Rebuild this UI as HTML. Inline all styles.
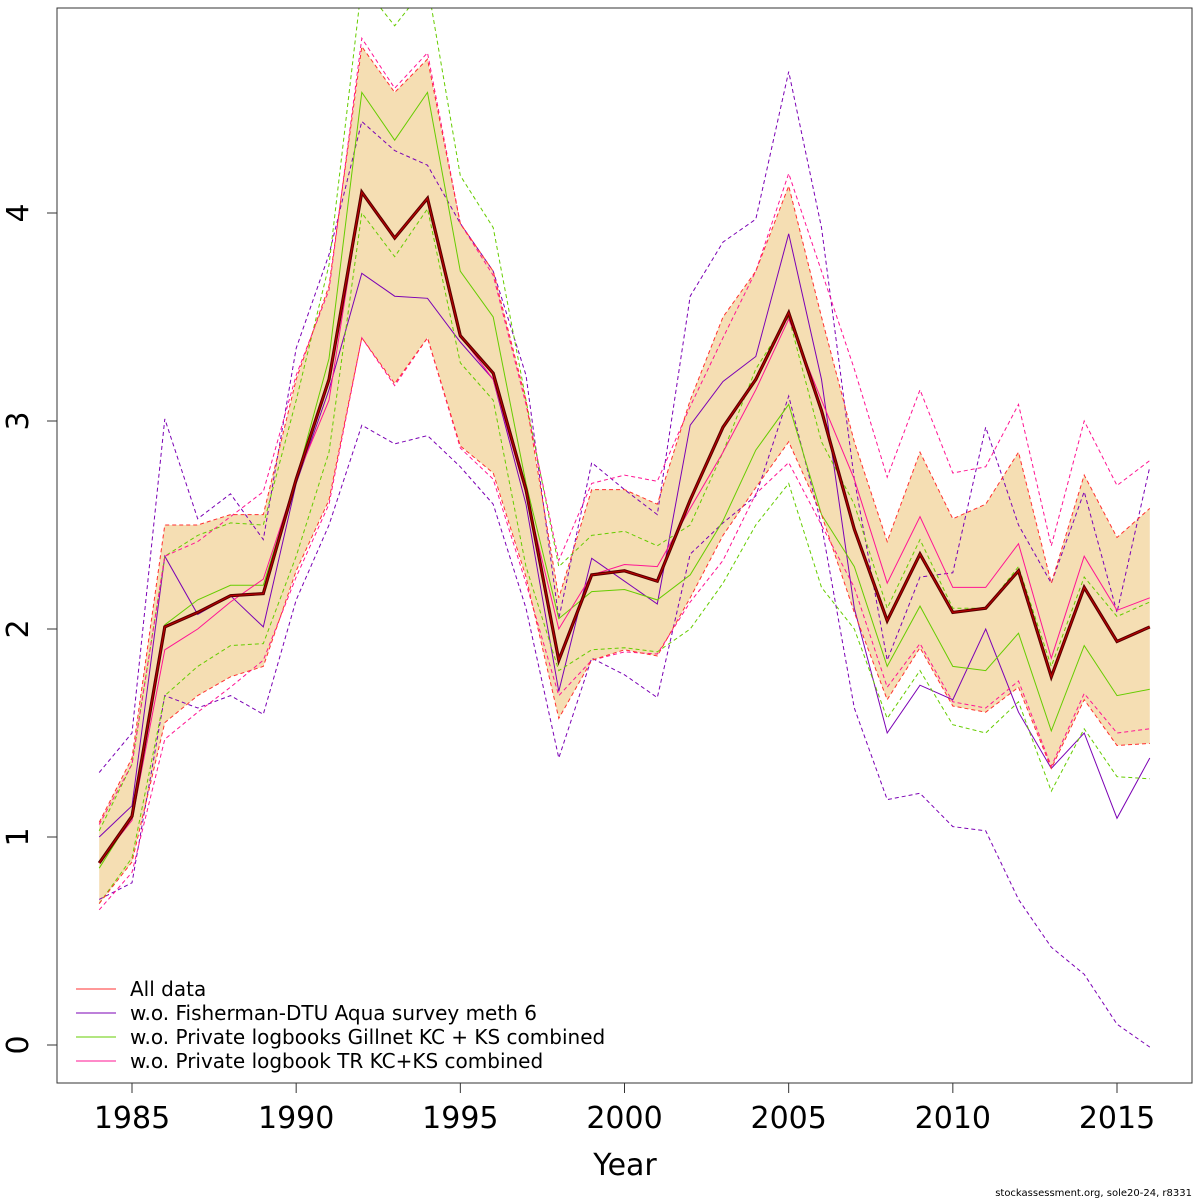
<!DOCTYPE html>
<html><head><meta charset="utf-8">
<style>
html,body{margin:0;padding:0;background:#fff;}
svg{display:block;font-family:"DejaVu Sans","Liberation Sans",sans-serif;}
</style></head>
<body>
<svg id="chart" width="1200" height="1200" viewBox="0 0 1200 1200">
<defs><clipPath id="pc"><rect x="57" y="8" width="1135" height="1075"/></clipPath></defs>
<g id="plot" clip-path="url(#pc)"></g>
<rect x="57" y="8" width="1135" height="1075" fill="none" stroke="#333" stroke-width="1"/>
<g id="axes"></g>
<text x="625" y="1175" font-size="30" text-anchor="middle">Year</text>
<text x="1192" y="1196" font-size="10" text-anchor="end">stockassessment.org, sole20-24, r8331</text>
<g id="legend"></g>
</svg>
<script>
const years = [1984,1985,1986,1987,1988,1989,1990,1991,1992,1993,1994,1995,1996,1997,1998,1999,2000,2001,2002,2003,2004,2005,2006,2007,2008,2009,2010,2011,2012,2013,2014,2015,2016];
const allEst = [0.875,1.1,2.01,2.08,2.16,2.17,2.72,3.2,4.1,3.88,4.07,3.41,3.23,2.67,1.85,2.26,2.28,2.23,2.62,2.97,3.2,3.52,3.05,2.48,2.04,2.36,2.08,2.1,2.28,1.77,2.2,1.94,2.01];
const allHi = [1.07,1.38,2.5,2.5,2.55,2.55,3.2,3.65,4.8,4.58,4.74,3.95,3.72,3.1,2.15,2.67,2.67,2.6,3.1,3.5,3.72,4.13,3.5,2.9,2.42,2.85,2.53,2.6,2.85,2.22,2.74,2.44,2.58];
const allLo = [0.68,0.88,1.55,1.68,1.77,1.82,2.28,2.62,3.4,3.18,3.4,2.88,2.75,2.25,1.57,1.85,1.9,1.87,2.15,2.45,2.68,2.9,2.55,2.08,1.66,1.91,1.63,1.6,1.72,1.33,1.66,1.44,1.45];
const fishEst = [1.0,1.15,2.35,2.07,2.16,2.01,2.7,3.15,3.71,3.6,3.59,3.38,3.2,2.6,1.7,2.34,2.23,2.12,2.98,3.19,3.31,3.9,3.2,2.1,1.5,1.73,1.66,2.0,1.6,1.33,1.5,1.09,1.38];
const fishHi = [1.31,1.5,3.01,2.53,2.65,2.43,3.35,3.8,4.44,4.3,4.23,3.95,3.72,3.22,2.05,2.8,2.67,2.55,3.6,3.86,3.97,4.68,3.93,2.72,1.85,2.25,2.27,2.97,2.5,2.22,2.66,2.08,2.78];
const fishLo = [0.7,0.78,1.68,1.62,1.68,1.59,2.14,2.5,2.98,2.89,2.93,2.78,2.6,2.1,1.38,1.86,1.78,1.67,2.36,2.51,2.64,3.12,2.5,1.62,1.18,1.21,1.05,1.03,0.7,0.47,0.34,0.1,-0.01];
const gillEst = [0.85,1.1,2.02,2.14,2.21,2.21,2.72,3.3,4.58,4.35,4.58,3.72,3.5,2.7,2.05,2.18,2.19,2.14,2.26,2.52,2.86,3.08,2.55,2.3,1.82,2.11,1.82,1.8,1.98,1.51,1.92,1.68,1.71];
const gillHi = [1.03,1.35,2.35,2.45,2.51,2.5,3.1,3.75,5.1,4.9,5.1,4.18,3.93,3.1,2.3,2.45,2.47,2.4,2.5,2.85,3.25,3.5,2.9,2.6,2.1,2.43,2.1,2.1,2.3,1.82,2.25,2.06,2.13];
const gillLo = [0.68,0.9,1.68,1.82,1.92,1.93,2.35,2.85,4.0,3.79,4.02,3.28,3.1,2.3,1.8,1.9,1.91,1.89,2.0,2.22,2.5,2.7,2.2,2.0,1.57,1.8,1.54,1.5,1.65,1.22,1.52,1.29,1.28];
const trEst = [0.88,1.08,1.9,2.0,2.13,2.24,2.72,3.1,4.1,3.88,4.07,3.41,3.2,2.65,2.0,2.26,2.31,2.3,2.58,2.85,3.15,3.49,3.1,2.72,2.22,2.54,2.2,2.2,2.41,1.86,2.35,2.09,2.15];
const trHi = [1.06,1.35,2.35,2.42,2.54,2.66,3.22,3.63,4.84,4.6,4.77,3.95,3.7,3.08,2.33,2.7,2.74,2.71,3.07,3.4,3.72,4.19,3.72,3.25,2.73,3.15,2.75,2.78,3.08,2.4,3.0,2.69,2.81];
const trLo = [0.65,0.83,1.47,1.6,1.72,1.85,2.25,2.6,3.4,3.17,3.4,2.87,2.72,2.22,1.68,1.85,1.89,1.88,2.13,2.33,2.65,2.8,2.5,2.2,1.72,1.93,1.65,1.62,1.75,1.34,1.69,1.5,1.52];
const xTicks = [1985,1990,1995,2000,2005,2010,2015];
const yTicks = [0,1,2,3,4];
const legendLabels = ["All data","w.o. Fisherman-DTU Aqua survey meth 6","w.o. Private logbooks Gillnet KC + KS combined","w.o. Private logbook TR KC+KS combined"];

const NS="http://www.w3.org/2000/svg";
const X = y => 132 + (y-1985)*(1117-132)/30;
const Y = v => 1045 - v*208;
function mk(tag, attrs, parent){const e=document.createElementNS(NS,tag);for(const k in attrs)e.setAttribute(k,attrs[k]);parent.appendChild(e);return e;}
const plot=document.getElementById('plot'), axes=document.getElementById('axes'), legend=document.getElementById('legend');
const pts = arr => arr.map((v,i)=>X(years[i]).toFixed(1)+','+Y(v).toFixed(1)).join(' ');

const band = mk('polygon',{points: pts(allHi)+' '+allLo.map((v,i)=>i).reverse().map(i=>X(years[i]).toFixed(1)+','+Y(allLo[i]).toFixed(1)).join(' '), fill:'#F5DEB3', stroke:'none'}, plot);



const series = [
 {name:'fisherman',c:'#7B00B4',e:fishEst,h:fishHi,l:fishLo},
 {name:'gillnet',c:'#66CC00',e:gillEst,h:gillHi,l:gillLo},
 {name:'tr',c:'#FF1493',e:trEst,h:trHi,l:trLo},
 {name:'all-data',c:'#FF3030',e:allEst,h:allHi,l:allLo}
];
series.forEach(s=>{
  [['h','upper'],['l','lower']].forEach(([k,n])=>{
    const p=mk('polyline',{points:pts(s[k]),fill:'none',stroke:s.c,'stroke-width':1,'stroke-dasharray':'4,3'},plot);
    
    
  });
  if(s.name!=='all-data'){
    const p=mk('polyline',{points:pts(s.e),fill:'none',stroke:s.c,'stroke-width':1},plot);
    
    
  }
});
const main=mk('polyline',{points:pts(allEst),fill:'none',stroke:'#5a0000','stroke-width':3.2},plot);


const main2=mk('polyline',{points:pts(allEst),fill:'none',stroke:'#c00000','stroke-width':1},plot);



xTicks.forEach(t=>{
  const l=mk('line',{x1:X(t),x2:X(t),y1:1083,y2:1093,stroke:'#333'},axes);
  
  
  const tx=mk('text',{x:X(t),y:1128,'font-size':30,'text-anchor':'middle'},axes);
  tx.textContent=t;
  
  
});
yTicks.forEach(t=>{
  const l=mk('line',{x1:47,x2:57,y1:Y(t),y2:Y(t),stroke:'#333'},axes);
  
  
  const tx=mk('text',{x:28,y:Y(t),'font-size':30,'text-anchor':'middle',transform:`rotate(-90 28 ${Y(t)})`},axes);
  tx.textContent=t;
  
  
});
const legCols=['#FF3030','#7B00B4','#66CC00','#FF1493'];
legendLabels.forEach((lab,i)=>{
  const y=989+i*24;
  const l=mk('line',{x1:76,x2:116,y1:y,y2:y,stroke:legCols[i],'stroke-width':1},legend);
  
  
  const tx=mk('text',{x:130,y:y+7,'font-size':20},legend);
  tx.textContent=lab;
  
  
});
</script>
</body></html>
